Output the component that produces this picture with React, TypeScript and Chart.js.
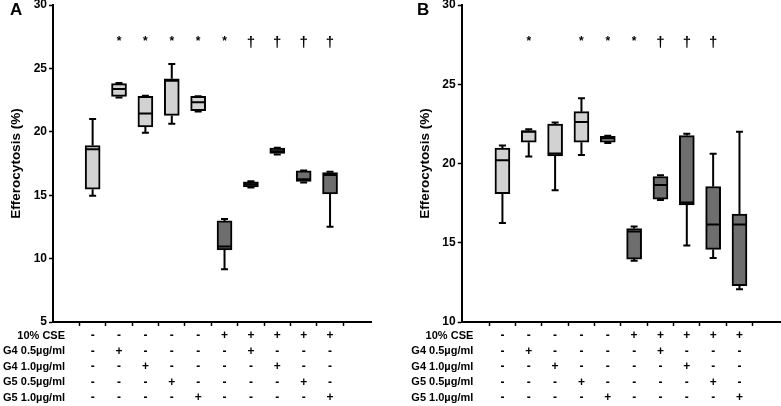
import React, { useEffect, useRef } from 'react';
import { Chart, registerables } from 'chart.js';
Chart.register(...registerables);

const FONT = "Arial, 'Liberation Sans', sans-serif";

const columns = [0, 1, 2, 3, 4, 5, 6, 7, 8, 9];
const rowLabels = ['10% CSE', 'G4 0.5µg/ml', 'G4 1.0µg/ml', 'G5 0.5µg/ml', 'G5 1.0µg/ml'];
const cseRow = ['-', '-', '-', '-', '-', '+', '+', '+', '+', '+'];
const g4LowRow = ['-', '+', '-', '-', '-', '-', '+', '-', '-', '-'];
const g4HighRow = ['-', '-', '+', '-', '-', '-', '-', '+', '-', '-'];
const g5LowRow = ['-', '-', '-', '+', '-', '-', '-', '-', '+', '-'];
const g5HighRow = ['-', '-', '-', '-', '+', '-', '-', '-', '-', '+'];
const shade = ['light', 'light', 'light', 'light', 'light', 'dark', 'dark', 'dark', 'dark', 'dark'];

// Panel A
const aMin = [14.95, 22.7, 19.92, 20.63, 21.6, 9.16, 15.6, 18.2, 16.0, 12.52];
const aQ1 = [15.47, 22.79, 20.39, 21.29, 21.66, 10.68, 15.66, 18.29, 16.08, 15.1];
const aMedian = [18.63, 23.37, 21.45, 24.03, 22.34, 10.95, 15.87, 18.47, 16.26, 16.6];
const aQ3 = [18.92, 23.8, 22.8, 24.18, 22.79, 12.97, 16.05, 18.71, 16.92, 16.79];
const aMax = [21.0, 23.84, 22.84, 25.34, 22.8, 13.13, 16.1, 18.75, 16.95, 16.85];
const aMarks = ['', '*', '*', '*', '*', '*', '†', '†', '†', '†'];

// Panel B
const bMin = [16.24, 20.44, 18.32, 20.54, 21.3, 13.86, 17.69, 14.83, 14.03, 12.06];
const bQ1 = [18.09, 21.34, 20.48, 21.34, 21.34, 13.97, 17.75, 17.39, 14.58, 12.29];
const bMedian = [20.21, 22.01, 20.63, 22.62, 21.57, 15.71, 18.65, 17.54, 16.15, 16.15];
const bQ3 = [20.97, 22.08, 22.48, 23.27, 21.72, 15.9, 19.18, 21.76, 18.55, 16.81];
const bMax = [21.13, 22.16, 22.58, 24.12, 21.75, 16.03, 19.26, 21.87, 20.61, 22.01];
const bMarks = ['', '*', '', '*', '*', '*', '†', '†', '†', ''];

const yTitle = 'Efferocytosis (%)';
const LIGHT = '#d2d2d2';
const DARK = '#6e6e6e';

const TICK_LEN = 4;
const TICK_PAD = 2;
const LINE_H = 15.5;
const X_AXIS_H = 84;

const boxExtras = {
  id: 'boxExtras',
  afterDatasetsDraw(chart: any, _args: any, opts: any) {
    const ctx = chart.ctx;
    const xs = chart.scales.x;
    const ys = chart.scales.y;
    const area = chart.chartArea;
    ctx.save();
    ctx.strokeStyle = '#000';
    ctx.lineWidth = 2;
    ctx.lineCap = 'butt';
    columns.forEach((i) => {
      const x = xs.getPixelForValue(i);
      const yMin = ys.getPixelForValue(opts.min[i]);
      const yQ1 = ys.getPixelForValue(opts.q1[i]);
      const yMed = ys.getPixelForValue(opts.median[i]);
      const yQ3 = ys.getPixelForValue(opts.q3[i]);
      const yMax = ys.getPixelForValue(opts.max[i]);
      ctx.beginPath();
      ctx.moveTo(x, yQ3);
      ctx.lineTo(x, yMax);
      ctx.moveTo(x - 3.5, yMax);
      ctx.lineTo(x + 3.5, yMax);
      ctx.moveTo(x, yQ1);
      ctx.lineTo(x, yMin);
      ctx.moveTo(x - 3.5, yMin);
      ctx.lineTo(x + 3.5, yMin);
      ctx.moveTo(x - 7, yMed);
      ctx.lineTo(x + 7, yMed);
      ctx.stroke();
    });
    // significance marks
    ctx.fillStyle = '#000';
    ctx.textAlign = 'center';
    ctx.textBaseline = 'alphabetic';
    columns.forEach((i) => {
      const m = opts.marks[i];
      if (!m) return;
      ctx.font = m === '*' ? `bold 12px ${FONT}` : `bold 15px ${FONT}`;
      ctx.fillText(m, xs.getPixelForValue(i), m === '*' ? 45 : 47);
    });
    // row labels of the treatment table
    ctx.font = `bold 11px ${FONT}`;
    ctx.textAlign = 'right';
    ctx.textBaseline = 'middle';
    const base = area.bottom + TICK_LEN + TICK_PAD;
    rowLabels.forEach((lab, k) => {
      ctx.fillText(lab, opts.labelRight, base + LINE_H * (k + 0.5));
    });
    // y-axis title
    ctx.save();
    ctx.font = `bold 13.5px ${FONT}`;
    ctx.textAlign = 'center';
    ctx.textBaseline = 'middle';
    ctx.translate(opts.titleX, (area.top + area.bottom) / 2);
    ctx.rotate(-Math.PI / 2);
    ctx.fillText(yTitle, 0, 0);
    ctx.restore();
    // panel letter
    ctx.font = `bold 17px ${FONT}`;
    ctx.textAlign = 'left';
    ctx.textBaseline = 'alphabetic';
    ctx.fillText(opts.letter, opts.letterX, 15);
    ctx.restore();
  },
};

type PanelProps = {
  letter: string;
  letterX: number;
  width: number;
  yMin: number;
  yMax: number;
  xMin: number;
  xMax: number;
  axisLeft: number;
  padRight: number;
  titleX: number;
  labelRight: number;
  min: number[];
  q1: number[];
  median: number[];
  q3: number[];
  max: number[];
  marks: string[];
};

function Panel(p: PanelProps) {
  const ref = useRef<HTMLCanvasElement>(null);
  useEffect(() => {
    if (!ref.current) return;
    const chart = new Chart(ref.current, {
      type: 'bar',
      data: {
        datasets: [
          {
            data: columns.map((i) => ({ x: i, y: [p.q1[i], p.q3[i]] })) as any,
            backgroundColor: columns.map((i) => (shade[i] === 'light' ? LIGHT : DARK)),
            borderColor: '#000',
            borderWidth: 2,
            borderSkipped: false,
            barThickness: 15,
            grouped: false,
          } as any,
        ],
      },
      options: {
        responsive: false,
        maintainAspectRatio: false,
        animation: false,
        layout: { padding: { top: 5, right: p.padRight, left: 0, bottom: 0 } },
        plugins: {
          legend: { display: false },
          tooltip: { enabled: false },
          boxExtras: {
            min: p.min,
            q1: p.q1,
            median: p.median,
            q3: p.q3,
            max: p.max,
            marks: p.marks,
            titleX: p.titleX,
            labelRight: p.labelRight,
            letter: p.letter,
            letterX: p.letterX,
          },
        } as any,
        scales: {
          x: {
            type: 'linear',
            min: p.xMin,
            max: p.xMax,
            afterBuildTicks: (s: any) => {
              s.ticks = columns.map((v) => ({ value: v }));
            },
            afterFit: (s: any) => {
              s.height = X_AXIS_H;
              s.paddingLeft = 0;
              s.paddingRight = 0;
            },
            ticks: {
              autoSkip: false,
              maxRotation: 0,
              minRotation: 0,
              padding: TICK_PAD,
              color: '#000',
              font: { family: FONT, size: 12, weight: 'bold', lineHeight: LINE_H / 12 },
              callback: (v: any) => {
                const i = Number(v);
                return [cseRow[i], g4LowRow[i], g4HighRow[i], g5LowRow[i], g5HighRow[i]];
              },
            },
            grid: {
              drawOnChartArea: false,
              drawTicks: true,
              tickLength: TICK_LEN,
              tickColor: '#000',
              tickWidth: 1.5,
            },
            border: { display: true, color: '#000', width: 2 },
          } as any,
          y: {
            type: 'linear',
            min: p.yMin,
            max: p.yMax,
            afterFit: (s: any) => {
              s.width = p.axisLeft;
              s.paddingTop = 0;
              s.paddingBottom = 0;
            },
            ticks: {
              stepSize: 5,
              padding: TICK_PAD,
              color: '#000',
              font: { family: FONT, size: 12, weight: 'bold' },
            },
            grid: {
              drawOnChartArea: false,
              drawTicks: true,
              tickLength: TICK_LEN,
              tickColor: '#000',
              tickWidth: 1.5,
            },
            border: { display: true, color: '#000', width: 2 },
          } as any,
        },
      },
      plugins: [boxExtras],
    });
    return () => chart.destroy();
  }, []);
  return <canvas ref={ref} width={p.width} height={406} style={{ display: 'block', width: p.width, height: 406 }} />;
}

export default function App() {
  return (
    <div style={{ position: 'absolute', left: 0, top: 0, width: 781, height: 406, background: '#fff', overflow: 'hidden' }}>
      <div style={{ position: 'absolute', left: 0, top: 0 }}>
        <Panel
          letter="A"
          letterX={10}
          width={390}
          yMin={5}
          yMax={30}
          xMin={-0.9}
          xMax={9.95}
          axisLeft={53}
          padRight={19}
          titleX={16}
          labelRight={65}
          min={aMin}
          q1={aQ1}
          median={aMedian}
          q3={aQ3}
          max={aMax}
          marks={aMarks}
        />
      </div>
      <div style={{ position: 'absolute', left: 390, top: 0 }}>
        <Panel
          letter="B"
          letterX={27}
          width={391}
          yMin={10}
          yMax={30}
          xMin={-0.94}
          xMax={9.97}
          axisLeft={71.7}
          padRight={0}
          titleX={35.5}
          labelRight={83.3}
          min={bMin}
          q1={bQ1}
          median={bMedian}
          q3={bQ3}
          max={bMax}
          marks={bMarks}
        />
      </div>
    </div>
  );
}
